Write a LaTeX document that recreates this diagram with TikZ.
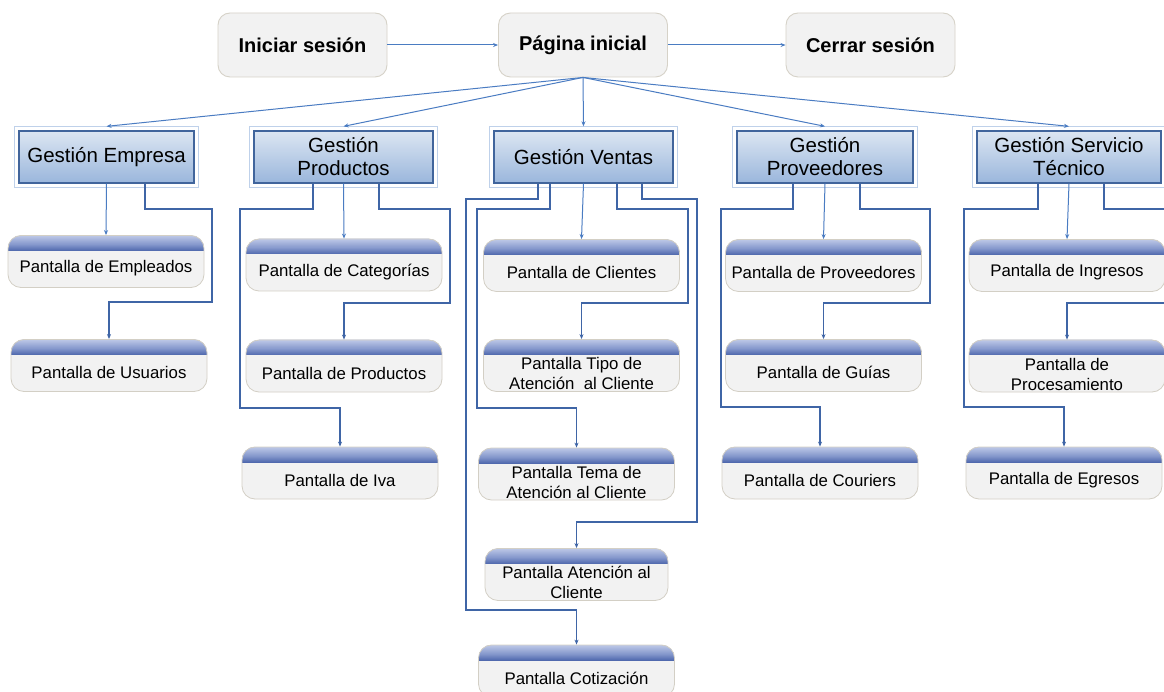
\documentclass[tikz,border=0pt]{standalone}
\usepackage{fontspec}
\setmainfont{Liberation Sans}
\usetikzlibrary{arrows.meta}

\definecolor{topfill}{HTML}{F2F2F2}
\definecolor{topborder}{HTML}{D6D2C8}
\definecolor{gtop}{HTML}{DCE6F2}
\definecolor{gbot}{HTML}{9AB6DC}
\definecolor{gborder}{HTML}{41659C}
\definecolor{gframecol}{HTML}{BFD1EA}
\definecolor{bandtop}{HTML}{C3CDEA}
\definecolor{bandmid}{HTML}{8396CB}
\definecolor{bandbot}{HTML}{5069AE}
\definecolor{pfill}{HTML}{F2F2F2}
\definecolor{pborder}{HTML}{D3CFC5}
\definecolor{lineblue}{HTML}{4A7CC2}
\definecolor{wireblue}{HTML}{3F65A6}

\tikzset{
  topbox/.style={draw=topborder, fill=topfill, line width=0.9pt, rounded corners=12pt,
    minimum width=169pt, minimum height=64pt, inner sep=0pt,
    font=\fontsize{20}{24}\selectfont\bfseries},
  gbox/.style={draw=gborder, line width=1.3pt, top color=gtop, bottom color=gbot,
    minimum height=52pt, inner sep=0pt, align=center,
    font=\fontsize{20.5}{23}\selectfont},
  gfr/.style={draw=gframecol, line width=0.8pt},
  pbox/.style={draw=pborder, fill=pfill, line width=0.8pt, rounded corners=13pt,
    minimum width=196pt, minimum height=52pt, inner sep=0pt,
    path picture={%
      \fill[sharp corners, bandbot]
        ([yshift=1pt]path picture bounding box.north west) rectangle
        ([yshift=-15pt]path picture bounding box.north east);
      \shade[sharp corners, top color=bandtop, bottom color=bandmid]
        ([yshift=1pt]path picture bounding box.north west) rectangle
        ([yshift=-9pt]path picture bounding box.north east);
      \shade[sharp corners, top color=bandmid, bottom color=bandbot]
        ([yshift=-9pt]path picture bounding box.north west) rectangle
        ([yshift=-15pt]path picture bounding box.north east);}},
  ptext/.style={inner sep=0pt, align=center, font=\fontsize{16.8}{20}\selectfont},
  conn/.style={draw=lineblue, line width=1pt, -{Stealth[length=5pt,width=4pt]}},
  wire/.style={draw=wireblue, line width=1.1pt, -{Stealth[length=5pt,width=4pt]}},
}

\begin{document}
\begin{tikzpicture}[x=1pt,y=-1pt]
\useasboundingbox (0,0) rectangle (1164,692);
\clip (0,0) rectangle (1164,692);
\fill[white] (0,0) rectangle (1164,692);

% top row
\node[topbox] (ini) at (302.5,45) {Iniciar sesión};
\node[topbox] (pag) at (583,45) {Página inicial};
\node[topbox] (cer) at (870.5,45) {Cerrar sesión};
\draw[conn] (ini.east) -- (pag.west);
\draw[conn] (pag.east) -- (cer.west);

% management modules
\node[gbox, minimum width=175pt] (ge)  at (106.5,157) {Gestión Empresa};
\node[gbox, minimum width=179pt] (gp)  at (343.5,157) {Gestión\\Productos};
\node[gbox, minimum width=179pt] (gv)  at (583.5,157) {Gestión Ventas};
\node[gbox, minimum width=176pt] (gpr) at (825,157)   {Gestión\\Proveedores};
\node[gbox, minimum width=184pt] (gs)  at (1069,157)  {Gestión Servicio\\Técnico};
\foreach \n in {ge,gp,gv,gpr,gs}
  \draw[gfr] ([shift={(-4pt,-3.5pt)}]\n.south west) rectangle ([shift={(4pt,3.5pt)}]\n.north east);

\foreach \n in {ge,gp,gv,gpr,gs}
  \draw[conn] (pag.south) -- ([yshift=4pt]\n.north);

% screens
\node[pbox] (emp1) at (106,261.5) {};
\node[pbox] (emp2) at (109,365.5) {};
\node[pbox] (pro1) at (344,265) {};
\node[pbox] (pro2) at (344,366) {};
\node[pbox] (pro3) at (340,473) {};
\node[pbox] (ven1) at (581.5,265.5) {};
\node[pbox] (ven2) at (581.5,365.5) {};
\node[pbox] (ven3) at (576.5,474) {};
\node[pbox, minimum width=183pt] (ven4) at (576.5,574.5) {};
\node[pbox] (ven5) at (576.5,671) {};
\node[pbox] (prv1) at (823.5,265.5) {};
\node[pbox] (prv2) at (823.5,365.5) {};
\node[pbox] (prv3) at (820,473) {};
\node[pbox] (ser1) at (1067,265.5) {};
\node[pbox] (ser2) at (1067,366) {};
\node[pbox] (ser3) at (1064,473) {};

\node[ptext] (emp1t) at ([yshift=-7pt]emp1.center) {Pantalla de Empleados};
\node[ptext] (emp2t) at ([yshift=-7pt]emp2.center) {Pantalla de Usuarios};
\node[ptext] (pro1t) at ([yshift=-7pt]pro1.center) {Pantalla de Categorías};
\node[ptext] (pro2t) at ([yshift=-7pt]pro2.center) {Pantalla de Productos};
\node[ptext] (pro3t) at ([yshift=-7pt]pro3.center) {Pantalla de Iva};
\node[ptext] (ven1t) at ([yshift=-7pt]ven1.center) {Pantalla de Clientes};
\node[ptext] (ven2t) at ([yshift=-8pt]ven2.center) {Pantalla Tipo de\\Atención~ al Cliente};
\node[ptext] (ven3t) at ([yshift=-8pt]ven3.center) {Pantalla Tema de\\Atención al Cliente};
\node[ptext] (ven4t) at ([yshift=-8pt]ven4.center) {Pantalla Atención al\\Cliente};
\node[ptext] (ven5t) at ([yshift=-7pt]ven5.center) {Pantalla Cotización};
\node[ptext] (prv1t) at ([yshift=-7pt]prv1.center) {Pantalla de Proveedores};
\node[ptext] (prv2t) at ([yshift=-7pt]prv2.center) {Pantalla de Guías};
\node[ptext] (prv3t) at ([yshift=-7pt]prv3.center) {Pantalla de Couriers};
\node[ptext] (ser1t) at ([yshift=-7pt]ser1.center) {Pantalla de Ingresos};
\node[ptext] (ser2t) at ([yshift=-8pt]ser2.center) {Pantalla de\\Procesamiento};
\node[ptext] (ser3t) at ([yshift=-7pt]ser3.center) {Pantalla de Egresos};

% Gestión Empresa
\draw[conn] (ge.south) -- (emp1.north);
\draw[wire] (ge.south -| 145,0) -- (145,209) -- (212,209) -- (212,302)
  -- (emp2.north |- 0,302) -- (emp2.north);

% Gestión Productos
\draw[conn] (gp.south) -- (pro1.north);
\draw[wire] (gp.south -| 379,0) -- (379,209) -- (450,209) -- (450,303)
  -- (pro2.north |- 0,303) -- (pro2.north);
\draw[wire] (gp.south -| 313,0) -- (313,209) -- (240,209) -- (240,408)
  -- (pro3.north |- 0,408) -- (pro3.north);

% Gestión Ventas
\draw[conn] (gv.south) -- (ven1.north);
\draw[wire] (gv.south -| 617,0) -- (617,209) -- (688,209) -- (688,303)
  -- (ven2.north |- 0,303) -- (ven2.north);
\draw[wire] (gv.south -| 550,0) -- (550,209) -- (477,209) -- (477,408)
  -- (ven3.north |- 0,408) -- (ven3.north);
\draw[wire] (gv.south -| 642,0) -- (642,199) -- (697,199) -- (697,522)
  -- (ven4.north |- 0,522) -- (ven4.north);
\draw[wire] (gv.south -| 538,0) -- (538,199) -- (466,199) -- (466,610)
  -- (ven5.north |- 0,610) -- (ven5.north);

% Gestión Proveedores
\draw[conn] (gpr.south) -- (prv1.north);
\draw[wire] (gpr.south -| 860,0) -- (860,209) -- (930,209) -- (930,303)
  -- (prv2.north |- 0,303) -- (prv2.north);
\draw[wire] (gpr.south -| 793,0) -- (793,209) -- (721,209) -- (721,407)
  -- (prv3.north |- 0,407) -- (prv3.north);

% Gestión Servicio Técnico
\draw[conn] (gs.south) -- (ser1.north);
\draw[wire] (gs.south -| 1104,0) -- (1104,209) -- (1180,209) -- (1180,303)
  -- (ser2.north |- 0,303) -- (ser2.north);
\draw[wire] (gs.south -| 1038,0) -- (1038,209) -- (964,209) -- (964,407)
  -- (ser3.north |- 0,407) -- (ser3.north);
\end{tikzpicture}
\end{document}
